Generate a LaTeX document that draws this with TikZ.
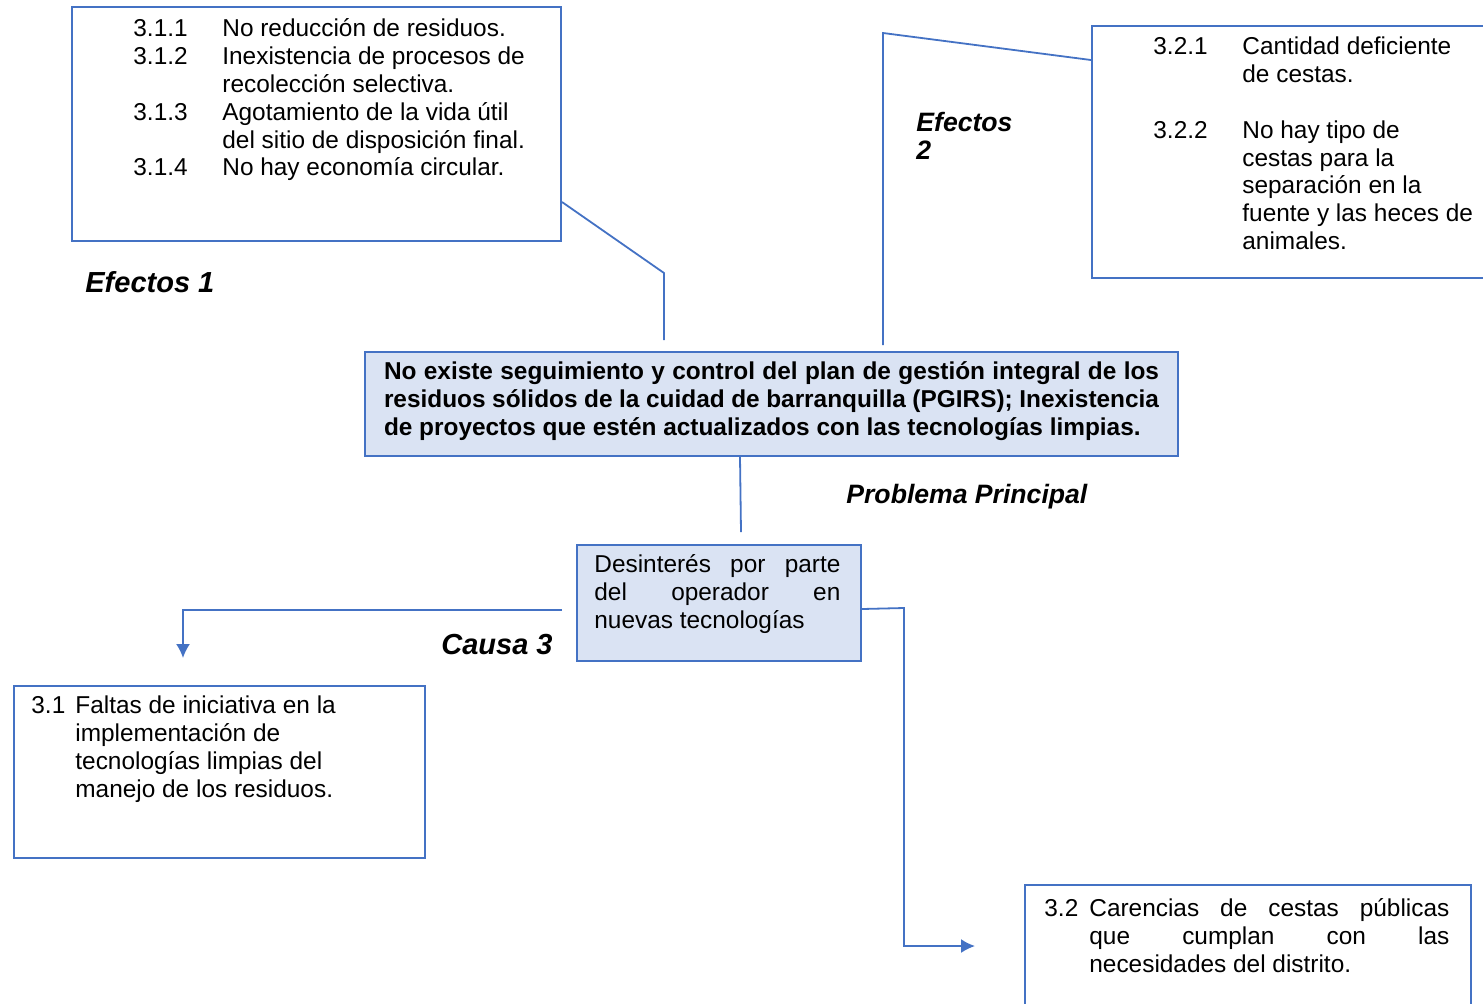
\documentclass[tikz,border=0pt]{standalone}
\usepackage{fontspec}
\setmainfont{Liberation Sans}
\usetikzlibrary{positioning,arrows.meta}
\definecolor{azul}{HTML}{4472C4}
\definecolor{celeste}{HTML}{DAE3F3}

\begin{document}
\begin{tikzpicture}[x=0.5pt,y=-0.5pt,
	caja/.style={draw=azul,line width=1pt,anchor=north west,inner sep=0pt},
	enlace/.style={draw=azul,line width=0.9pt},
	flecha/.style={enlace,-{Latex[length=7pt,width=7pt]}},
	texto/.style={anchor=north west,inner sep=0pt,font=\fontsize{12.2}{13.9}\selectfont},
	rotulo/.style={anchor=west,inner sep=0pt,font=\fontsize{#1}{14}\selectfont\bfseries\itshape},
	rotulo/.default=13.3]
\useasboundingbox (0,0) rectangle (1483,1003);

\node[caja,minimum width=244.5pt,minimum height=117pt] (efe1) at (71,6) {};
\node[caja,minimum width=205pt,minimum height=126pt] (efe2) at (1091,25) {};
\node[caja,fill=celeste,minimum width=406.5pt,minimum height=52pt,text width=387.5pt,align=justify,
	font=\fontsize{12.2}{14}\selectfont\bfseries] (prob) at (364,351)
	{No existe seguimiento y control del plan de gestión integral de los\linebreak
	residuos sólidos de la cuidad de barranquilla (PGIRS); Inexistencia\linebreak
	de proyectos que estén actualizados con las tecnologías limpias.\vspace{3pt}};
\node[caja,fill=celeste,minimum width=142pt,minimum height=58pt] (causa) at (576,544) {};
\node[caja,minimum width=205.5pt,minimum height=86pt] (c31) at (13,685) {};
\node[caja,minimum width=223pt,minimum height=63pt] (c32) at (1024,884) {};

\node[texto] (lista1) at (133,17) {\setlength\tabcolsep{0pt}%
	\begin{tabular}{@{}p{44.5pt}l@{}}
	3.1.1 & No reducción de residuos.\\
	3.1.2 & Inexistencia de procesos de\\
	      & recolección selectiva.\\
	3.1.3 & Agotamiento de la vida útil\\
	      & del sitio de disposición final.\\
	3.1.4 & No hay economía circular.
	\end{tabular}};
\node[texto] (lista2) at (1153,35) {\setlength\tabcolsep{0pt}%
	\begin{tabular}{@{}p{44.5pt}l@{}}
	3.2.1 & Cantidad deficiente\\
	      & de cestas.\\
	      & \\
	3.2.2 & No hay tipo de\\
	      & cestas para la\\
	      & separación en la\\
	      & fuente y las heces de\\
	      & animales.
	\end{tabular}};
\node[texto,text width=123pt,align=justify] (tcausa) at (594,553)
	{\strut Desinterés por parte\linebreak del operador en\linebreak nuevas tecnologías};
\node[texto] (lista31) at (31,694) {\setlength\tabcolsep{0pt}%
	\begin{tabular}{@{}p{22pt}l@{}}
	3.1 & Faltas de iniciativa en la\\
	    & implementación de\\
	    & tecnologías limpias del\\
	    & manejo de los residuos.
	\end{tabular}};
\node[texto] (lista32) at (1044,897) {\setlength\tabcolsep{0pt}%
	\begin{tabular}{@{}p{22.5pt}p{180pt}@{}}
	3.2 & Carencias de cestas públicas\linebreak que cumplan con las\linebreak necesidades del distrito.
	\end{tabular}};

\node[rotulo=14.5] (ef1) at (85,282) {Efectos 1};
\node[rotulo,anchor=north west,align=left] (ef2) at (916,112) {Efectos\\2};
\node[rotulo] (pp) at (846,497) {Problema Principal};
\node[rotulo=14.5] (ca3) at (441,645) {Causa 3};

\coordinate (a1) at (664,273);
\coordinate (a2) at (664,340);
\coordinate (b1) at (883,345);
\coordinate (b2) at (883,33);
\coordinate (c1) at (741,532);
\coordinate (d0) at (562,610);
\coordinate (d1) at (183,610);
\coordinate (d2) at (183,658);
\coordinate (e1) at (904,608);
\coordinate (e2) at (904,946);
\coordinate (e3) at (975,946);

\draw[enlace] ([yshift=20pt]efe1.south east) -- (a1) -- (a2);
\draw[enlace] (b1) -- (b2) -- ([yshift=46pt]efe2.west);
\draw[enlace] ([xshift=-15.75pt]prob.south) -- (c1);
\draw[flecha] (d0) -- (d1) -- (d2);
\draw[flecha] ([yshift=-3pt]causa.east) -- (e1) -- (e2) -- (e3);
\end{tikzpicture}
\end{document}
